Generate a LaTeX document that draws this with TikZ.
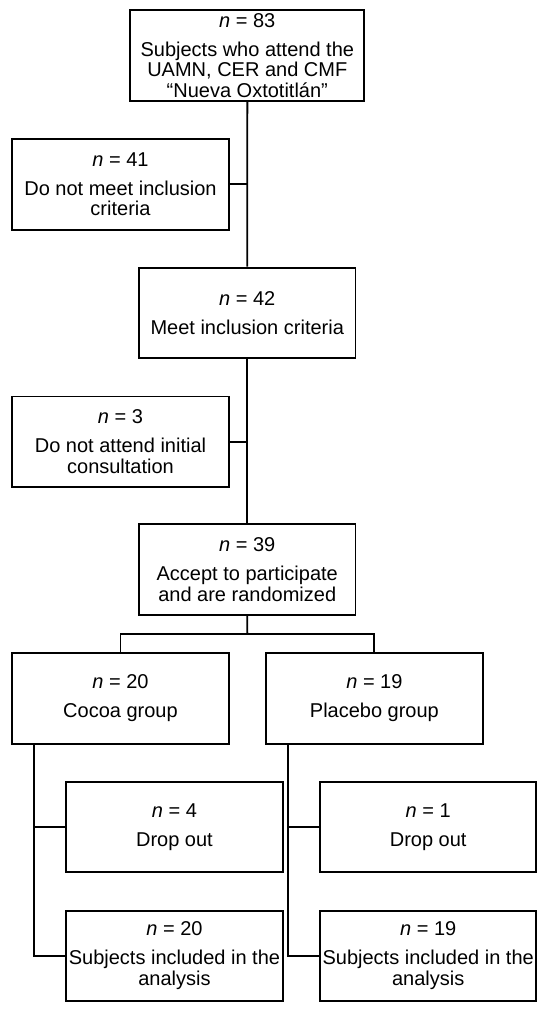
\documentclass[tikz,border=0pt]{standalone}
\usepackage{fontspec}
\setmainfont{Liberation Sans}
\begin{document}
\begin{tikzpicture}[x=1pt,y=-1pt,
  box/.style={draw, line width=1.9pt, inner sep=0pt, minimum height=90.5pt, minimum width=216.4pt,
    align=center, font=\fontsize{20}{20.7}\selectfont},
  conn/.style={line width=1.9pt}]
\useasboundingbox (0,0) rectangle (550,1014);
\node[box, minimum width=234pt] (b1) at (247.3,55.5) {\textit{n} = 83\\[8.3pt]Subjects who attend the\\UAMN, CER and CMF\\“Nueva Oxtotitlán”};
\node[box] (b2) at (120.5,184.3) {\textit{n} = 41\\[8.3pt]Do not meet inclusion\\criteria};
\node[box] (b3) at (247.25,312.8) {\textit{n} = 42\\[8.3pt]Meet inclusion criteria};
\node[box] (b4) at (120.5,441.7) {\textit{n} = 3\\[8.3pt]Do not attend initial\\consultation};
\node[box] (b5) at (247.25,569.5) {\textit{n} = 39\\[8.3pt]Accept to participate\\and are randomized};
\node[box] (b6) at (120.5,698.3) {\textit{n} = 20\\[8.3pt]Cocoa group};
\node[box] (b7) at (374.4,698.3) {\textit{n} = 19\\[8.3pt]Placebo group};
\node[box] (b8) at (174.45,827) {\textit{n} = 4\\[8.3pt]Drop out};
\node[box] (b9) at (174.45,955.85) {\textit{n} = 20\\[8.3pt]Subjects included in the\\analysis};
\node[box] (b10) at (428.2,827) {\textit{n} = 1\\[8.3pt]Drop out};
\node[box] (b11) at (428.2,955.85) {\textit{n} = 19\\[8.3pt]Subjects included in the\\analysis};
\coordinate (split) at (247.3,634);
\coordinate (lx) at (34,0);
\coordinate (rx) at (288,0);
\draw[conn] (b1.south) -- (b3.north);
\draw[conn] (b2.east) -- (b2.east -| b1.south);
\draw[conn] (b3.south) -- (b5.north);
\draw[conn] (b4.east) -- (b4.east -| b1.south);
\draw[conn] (b5.south) -- (split);
\draw[conn] (b6.north) -- (b6.north |- split) -- (b7.north |- split) -- (b7.north);
\draw[conn] (lx |- b6.south) -- (lx |- b9.west) -- (b9.west);
\draw[conn] (lx |- b8.west) -- (b8.west);
\draw[conn] (rx |- b7.south) -- (rx |- b11.west) -- (b11.west);
\draw[conn] (rx |- b10.west) -- (b10.west);
\end{tikzpicture}
\end{document}
